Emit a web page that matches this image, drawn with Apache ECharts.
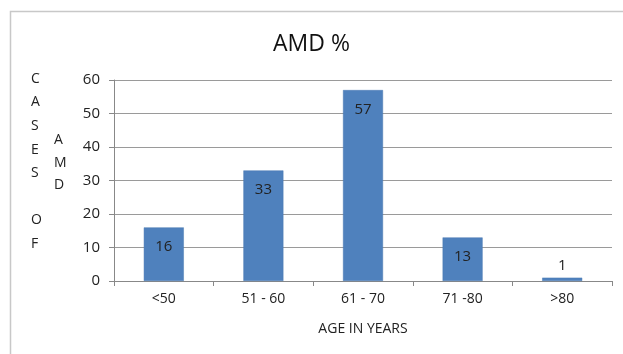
<!DOCTYPE html>
<html>
<head>
<meta charset="utf-8">
<script src="https://cdn.jsdelivr.net/npm/echarts@6/dist/echarts.min.js"></script>
<style>
  html, body { margin: 0; padding: 0; background: #fff; }
  #chart { width: 623px; height: 354px; }
</style>
</head>
<body>
<div id="chart"></div>
<script>
// Age groups and number of AMD cases in each
const ageGroups = ['<50', '51 - 60', '61 - 70', '71 -80', '>80'];
const amdCases = [16, 33, 57, 13, 1];
const yTicks = { min: 0, max: 60, interval: 10 };

const FONT = '"Open Sans", "DejaVu Sans", sans-serif';
const TEXT = '#222';

const chart = echarts.init(document.getElementById('chart'), null, { renderer: 'canvas' });

const seriesData = amdCases.map(function (v) {
  const small = v < 5;
  return {
    value: v,
    label: small
      ? { position: 'top', distance: 4 }
      : { position: 'insideTop', distance: 12 }
  };
});

chart.setOption({
  animation: false,
  backgroundColor: '#fff',
  title: {
    text: 'AMD %',
    left: 'center',
    top: 28,
    textStyle: { fontFamily: FONT, fontSize: 23, fontWeight: 'normal', color: '#111' }
  },
  graphic: [
    {
      type: 'rect',
      shape: { x: 10.5, y: 11.5, width: 640, height: 400 },
      style: { fill: 'none', stroke: '#c8c8c8', lineWidth: 1.5 },
      silent: true
    },
    {
      type: 'text',
      left: 31,
      top: 67,
      style: {
        text: 'C\nA\nS\nE\nS\n \nO\nF',
        font: '14px ' + FONT,
        fill: TEXT,
        lineHeight: 23.6,
        align: 'center'
      }
    },
    {
      type: 'text',
      left: 54,
      top: 129,
      style: {
        text: 'A\nM\nD',
        font: '14px ' + FONT,
        fill: TEXT,
        lineHeight: 22.5,
        align: 'center'
      }
    }
  ],
  grid: { left: 114, right: 11, top: 80, bottom: 73, containLabel: false },
  xAxis: {
    type: 'category',
    data: ageGroups,
    name: 'AGE IN YEARS',
    nameLocation: 'middle',
    nameGap: 41,
    nameTextStyle: { fontFamily: FONT, fontSize: 14, color: TEXT },
    axisLine: { lineStyle: { color: '#888', width: 1 } },
    axisTick: { show: true, length: 5, lineStyle: { color: '#888' } },
    axisLabel: { fontFamily: FONT, fontSize: 14, color: TEXT, margin: 11 }
  },
  yAxis: {
    type: 'value',
    min: yTicks.min,
    max: yTicks.max,
    interval: yTicks.interval,
    axisLine: { show: true, lineStyle: { color: '#888', width: 1 } },
    axisTick: { show: true, length: 5, inside: false, lineStyle: { color: '#888' } },
    axisLabel: { fontFamily: FONT, fontSize: 15, color: TEXT, margin: 14 },
    splitLine: { show: true, lineStyle: { color: '#9a9a9a', width: 1 } }
  },
  series: [{
    type: 'bar',
    data: seriesData,
    barWidth: 40,
    itemStyle: { color: '#4F81BD', borderColor: '#4a7ab3', borderWidth: 0.5 },
    label: {
      show: true,
      fontFamily: FONT,
      fontSize: 15,
      color: TEXT
    }
  }]
});
</script>
</body>
</html>
